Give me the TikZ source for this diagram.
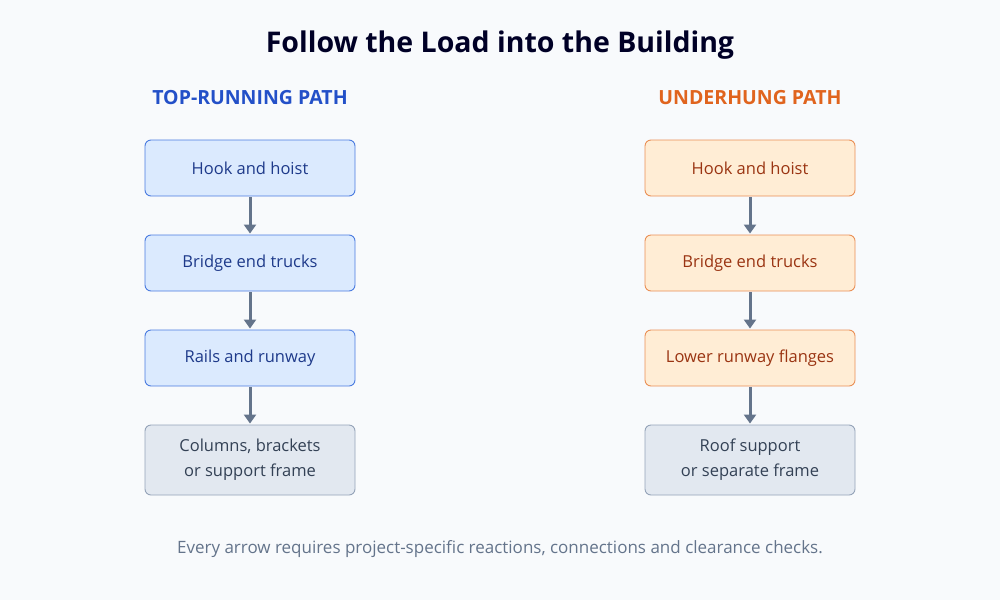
\documentclass[tikz,border=0pt]{standalone}
\usepackage{fontspec}
\setmainfont{Open Sans}
\usetikzlibrary{arrows.meta}
\definecolor{bg}{HTML}{F8FAFC}
\definecolor{bfill}{HTML}{DBEAFE}\definecolor{bdraw}{HTML}{4A7BE0}\definecolor{btext}{HTML}{1E3A8A}
\definecolor{ofill}{HTML}{FFEDD5}\definecolor{odraw}{HTML}{EA8F55}\definecolor{otext}{HTML}{9A3412}
\definecolor{gfill}{HTML}{E2E8F0}\definecolor{gdraw}{HTML}{94A3B8}\definecolor{gtext}{HTML}{334155}
\definecolor{arr}{HTML}{64748B}
\begin{document}
\begin{tikzpicture}[x=1pt,y=-1pt,
  box/.style={rounded corners=6pt,line width=0.9pt,minimum width=210pt,minimum height=56pt,align=center,font=\fontsize{16.5}{25}\selectfont},
  blue/.style={box,fill=bfill,draw=bdraw,text=btext},
  orng/.style={box,fill=ofill,draw=odraw,text=otext},
  gray/.style={box,fill=gfill,draw=gdraw,text=gtext,minimum height=70pt},
  ar/.style={draw=arr,line width=3pt,-{Triangle[length=9pt,width=12pt]}}]
\fill[bg] (0,0) rectangle (1000,600);
\useasboundingbox (0,0) rectangle (1000,600);
\node[font=\bfseries\fontsize{28.5}{32}\selectfont,text=black!85!blue] (t) at (500,45) {Follow the Load into the Building};
\node[font=\bfseries\fontsize{19.5}{24}\selectfont,text={rgb,255:red,35;green,80;blue,200}] (h1) at (250,98) {TOP-RUNNING PATH};
\node[font=\bfseries\fontsize{19.5}{24}\selectfont,text={rgb,255:red,224;green,100;blue,30}] (h2) at (750,98) {UNDERHUNG PATH};
\node[blue] (a1) at (250,168) {Hook and hoist};
\node[blue] (a2) at (250,263) {Bridge end trucks};
\node[blue] (a3) at (250,358) {Rails and runway};
\node[gray] (a4) at (250,460) {Columns, brackets\\or support frame};
\node[orng] (b1) at (750,168) {Hook and hoist};
\node[orng] (b2) at (750,263) {Bridge end trucks};
\node[orng] (b3) at (750,358) {Lower runway flanges};
\node[gray] (b4) at (750,460) {Roof support\\or separate frame};
\foreach \p/\q in {a1/a2,a2/a3,a3/a4,b1/b2,b2/b3,b3/b4}
  \draw[ar] ([yshift=-1pt]\p.south) -- ([yshift=1pt]\q.north);
\node[font=\fontsize{17}{20}\selectfont,text=arr] (f) at (500,549) {Every arrow requires project-specific reactions, connections and clearance checks.};
\end{tikzpicture}
\end{document}
